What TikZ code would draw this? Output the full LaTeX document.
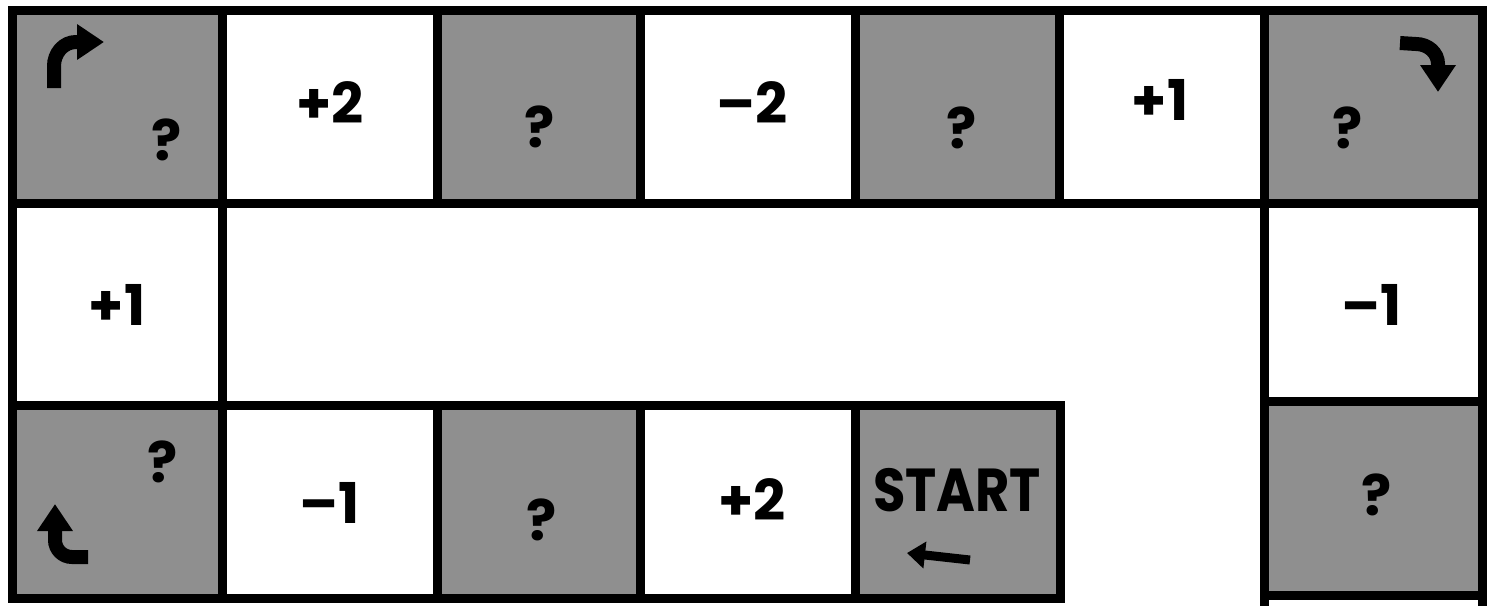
\documentclass[tikz,border=0pt]{standalone}
\usepackage{fontspec}
\newfontfamily\boardfont{Poppins}
\usetikzlibrary{arrows.meta}
\definecolor{tone}{gray}{0.56}

\begin{document}
\begin{tikzpicture}[
  x=0.1mm,y=-0.1mm,
  every node/.style={font=\boardfont\bfseries\fontsize{16}{18}\selectfont,inner sep=0pt},
  grid/.style={line width=0.9mm,line cap=rect,black},
  tonecell/.style={fill=tone},
  qm/.style={font=\boardfont\bfseries\fontsize{16}{18}\selectfont},
  turn/.style={line width=1.4mm,-{Triangle[length=2.7mm,width=3.4mm]}}
]
\useasboundingbox (0,0) rectangle (1488,605);
% shaded squares
\fill[tonecell] (12,10) rectangle (222,203);
\fill[tonecell] (437,10) rectangle (640,203);
\fill[tonecell] (855,10) rectangle (1059,203);
\fill[tonecell] (1264,10) rectangle (1482,203);
\fill[tonecell] (12,405) rectangle (222,598);
\fill[tonecell] (437,405) rectangle (640,598);
\fill[tonecell] (855,405) rectangle (1060,598);
\fill[tonecell] (1264,401) rectangle (1482,595);
% board lines
\draw[grid] (12,10) rectangle (1482,203);
\foreach \x in {222,437,640,855,1059,1264}
  \draw[grid] (\x,10) -- (\x,203);
\draw[grid] (12,203) -- (12,598) -- (1060,598) -- (1060,405) -- (12,405);
\draw[grid] (222,203) -- (222,598);
\foreach \x in {437,640,855}
  \draw[grid] (\x,405) -- (\x,598);
\draw[grid] (1264,203) -- (1264,605);
\draw[grid] (1482,203) -- (1482,605);
\draw[grid] (1264,401) -- (1482,401);
\draw[grid] (1264,595) -- (1482,595);
% numbers
\node (topB) at (330,103) {+2};
\node (topD) at (752,103) {–2};
\node (topF) at (1160,100) {+1};
\node (midL) at (117,305) {+1};
\node (midR) at (1372,305) {–1};
\node (botB) at (330,503) {–1};
\node (botD) at (752,500) {+2};
% question marks
\node[qm] (qTopA) at (167,140) {?};
\node[qm] (qTopC) at (540,127) {?};
\node[qm] (qTopE) at (962,128) {?};
\node[qm] (qTopG) at (1348,128) {?};
\node[qm] (qBotA) at (163,462) {?};
\node[qm] (qBotC) at (542,520) {?};
\node[qm] (qBotG) at (1377,495) {?};
% start square
\node[yscale=1.15,font=\boardfont\bfseries\fontsize{15}{18}\selectfont] (start) at (957,490) {START};
\draw[line width=0.9mm,-{Triangle[length=1.8mm,width=2.6mm]}] (970,560) -- (907,553);
% corner turns
\draw[turn] (54,88) -- (54,66) to[out=90,in=180] (76,42) -- (104,42);
\draw[turn] (1400,43) -- (1416,44) to[out=0,in=90] (1438,64) -- (1438,92);
\draw[turn] (88,557) -- (72,557) to[out=180,in=270] (55,540) -- (55,504);
\end{tikzpicture}
\end{document}
